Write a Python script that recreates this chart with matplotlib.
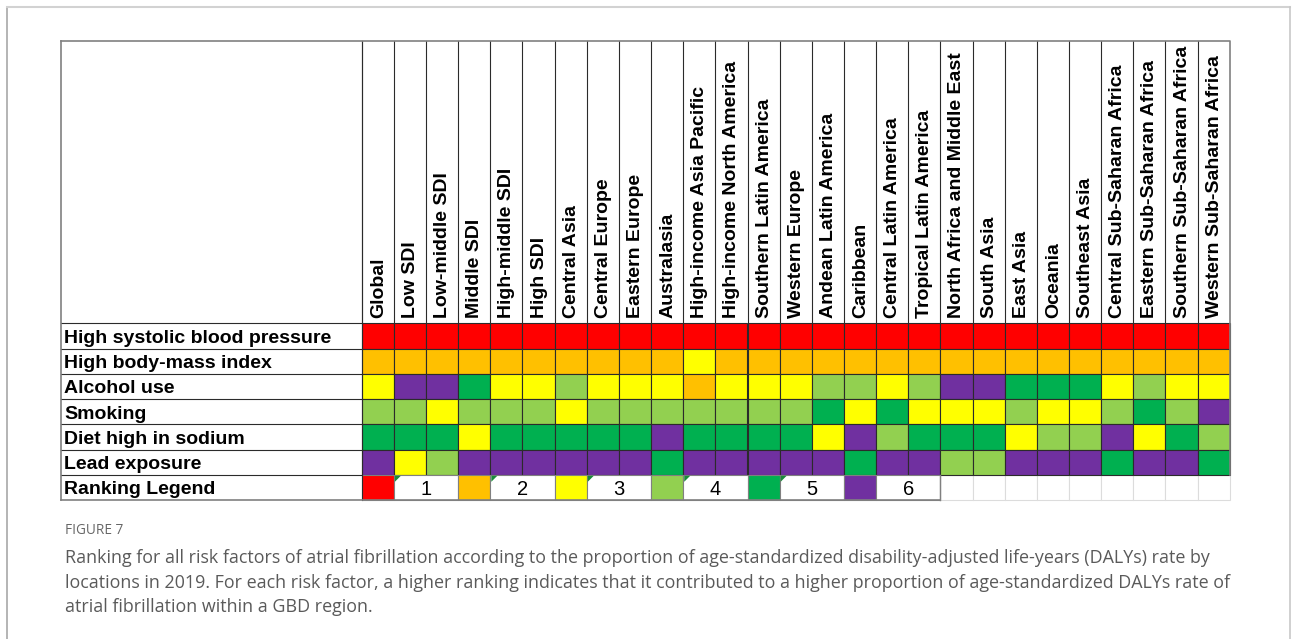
import matplotlib.pyplot as plt
from matplotlib.patches import Rectangle, Polygon

plt.rcParams['font.family'] = ['Liberation Sans', 'DejaVu Sans']

# regions (columns) and risk factors (rows)
locations = ['Global', 'Low SDI', 'Low-middle SDI', 'Middle SDI', 'High-middle SDI', 'High SDI',
             'Central Asia', 'Central Europe', 'Eastern Europe', 'Australasia',
             'High-income Asia Pacific', 'High-income North America', 'Southern Latin America',
             'Western Europe', 'Andean Latin America', 'Caribbean', 'Central Latin America',
             'Tropical Latin America', 'North Africa and Middle East', 'South Asia', 'East Asia',
             'Oceania', 'Southeast Asia', 'Central Sub-Saharan Africa', 'Eastern Sub-Saharan Africa',
             'Southern Sub-Saharan Africa', 'Western Sub-Saharan Africa']
risk_factors = ['High systolic blood pressure', 'High body-mass index', 'Alcohol use',
                'Smoking', 'Diet high in sodium', 'Lead exposure']

# rank of each risk factor per location (1 = highest)
rank_sbp     = [1, 1, 1, 1, 1, 1, 1, 1, 1, 1, 1, 1, 1, 1, 1, 1, 1, 1, 1, 1, 1, 1, 1, 1, 1, 1, 1]
rank_bmi     = [2, 2, 2, 2, 2, 2, 2, 2, 2, 2, 3, 2, 2, 2, 2, 2, 2, 2, 2, 2, 2, 2, 2, 2, 2, 2, 2]
rank_alcohol = [3, 6, 6, 5, 3, 3, 4, 3, 3, 3, 2, 3, 3, 3, 4, 4, 3, 4, 6, 6, 5, 5, 5, 3, 4, 3, 3]
rank_smoking = [4, 4, 3, 4, 4, 4, 3, 4, 4, 4, 4, 4, 4, 4, 5, 3, 5, 3, 3, 3, 4, 3, 3, 4, 5, 4, 6]
rank_sodium  = [5, 5, 5, 3, 5, 5, 5, 5, 5, 6, 5, 5, 5, 5, 3, 6, 4, 5, 5, 5, 3, 4, 4, 6, 3, 5, 4]
rank_lead    = [6, 3, 4, 6, 6, 6, 6, 6, 6, 5, 6, 6, 6, 6, 6, 5, 6, 6, 4, 4, 6, 6, 6, 5, 6, 6, 5]
ranks = [rank_sbp, rank_bmi, rank_alcohol, rank_smoking, rank_sodium, rank_lead]

legend_ranks = [1, 2, 3, 4, 5, 6]
rank_colors = {1: '#FF0000', 2: '#FFC000', 3: '#FFFF00', 4: '#92D050', 5: '#00B050', 6: '#7030A0'}

caption_head = 'FIGURE 7'
caption_lines = [
    'Ranking for all risk factors of atrial fibrillation according to the proportion of age-standardized disability-adjusted life-years (DALYs) rate by',
    'locations in 2019. For each risk factor, a higher ranking indicates that it contributed to a higher proportion of age-standardized DALYs rate of',
    'atrial fibrillation within a GBD region.',
]

# layout in pixels
tab_l, tab_t = 60.5, 40.5
x0, cw = 361.7, 32.15
y0, rh = 323.3, 25.25
grid_c = '#2b2b2b'
box_c = '#808080'


def cx(j):
    return x0 + j * cw


def ry(i):
    return y0 + i * rh


fig = plt.figure(figsize=(12.92, 6.39), dpi=100)
ax = fig.add_axes([0, 0, 1, 1])
ax.set_xlim(0, 1292)
ax.set_ylim(639, 0)
ax.axis('off')

# page frame
ax.plot([6.5, 6.5], [639, 6.5], color='#a8a8a8', lw=1.2)
ax.plot([6.5, 1289.5], [6.5, 6.5], color='#d2d2d2', lw=1.5)
ax.plot([1289.5, 1289.5], [6.5, 639], color='#c8c8c8', lw=1.2)

ncol = len(locations)
x_end = cx(ncol)

# coloured cells
for i, row in enumerate(ranks):
    for j, r in enumerate(row):
        ax.add_patch(Rectangle((cx(j), ry(i)), cw, rh, facecolor=rank_colors[r],
                               edgecolor=grid_c, lw=0.8, zorder=2))

# header columns
for j, name in enumerate(locations):
    ax.plot([cx(j), cx(j)], [tab_t, y0], color=grid_c, lw=0.8, zorder=3)
    ax.text(cx(j) + cw / 2 + 0.5, 318, name, rotation=90, ha='center', va='bottom',
            fontsize=14, fontweight='bold', color='black', zorder=4)

# row labels
all_rows = risk_factors + ['Ranking Legend']
for i, lab in enumerate(all_rows):
    ax.plot([tab_l, x0], [ry(i), ry(i)], color=grid_c, lw=0.8, zorder=3)
    ax.text(64, ry(i) + rh / 2 + 0.5, lab, ha='left', va='center_baseline',
            fontsize=14, fontweight='bold', color='black', zorder=4)

# legend row
ly = ry(len(risk_factors))
for k, r in enumerate(legend_ranks):
    j = 3 * k
    ax.add_patch(Rectangle((cx(j), ly), cw, rh, facecolor=rank_colors[r],
                           edgecolor=box_c, lw=0.8, zorder=2))
    ax.add_patch(Rectangle((cx(j + 1), ly), 2 * cw, rh, facecolor='white',
                           edgecolor=box_c, lw=0.8, zorder=2))
    ax.text(cx(j + 1) + cw, ly + rh / 2 + 0.5, str(r), ha='center', va='center_baseline',
            fontsize=14.5, color='black', zorder=4)
    if k < 5:
        xt = cx(j + 1) + 1
        ax.add_patch(Polygon([(xt, ly + 1), (xt + 6, ly + 1), (xt, ly + 7)],
                             closed=True, facecolor='#1a8a3a', edgecolor='none', zorder=5))

for j in range(3 * len(legend_ranks), ncol):
    ax.add_patch(Rectangle((cx(j), ly), cw, rh, facecolor='white',
                           edgecolor='#dcdcdc', lw=0.8, zorder=1))

# outer borders
ax.plot([tab_l, x_end, x_end], [tab_t, tab_t, ly], color=box_c, lw=1.2, zorder=6)
ax.plot([tab_l, tab_l], [tab_t, ly + rh], color=box_c, lw=1.2, zorder=6)
ax.plot([tab_l, cx(18)], [ly + rh, ly + rh], color=box_c, lw=1.2, zorder=6)
ax.plot([cx(18), cx(18)], [ly, ly + rh], color=box_c, lw=1.0, zorder=6)
ax.plot([x0, x0], [tab_t, ly + rh], color=grid_c, lw=0.8, zorder=3)

# caption
ax.text(65, 531, caption_head, fontsize=9.8, color='#666666', family='Open Sans', va='center')
for n, line in enumerate(caption_lines):
    ax.text(65, 558 + n * 24.5, line, fontsize=12.9, color='#5a5a5a', family='Open Sans',
            va='center')

fig.savefig('out.png', dpi=100, facecolor='white')
